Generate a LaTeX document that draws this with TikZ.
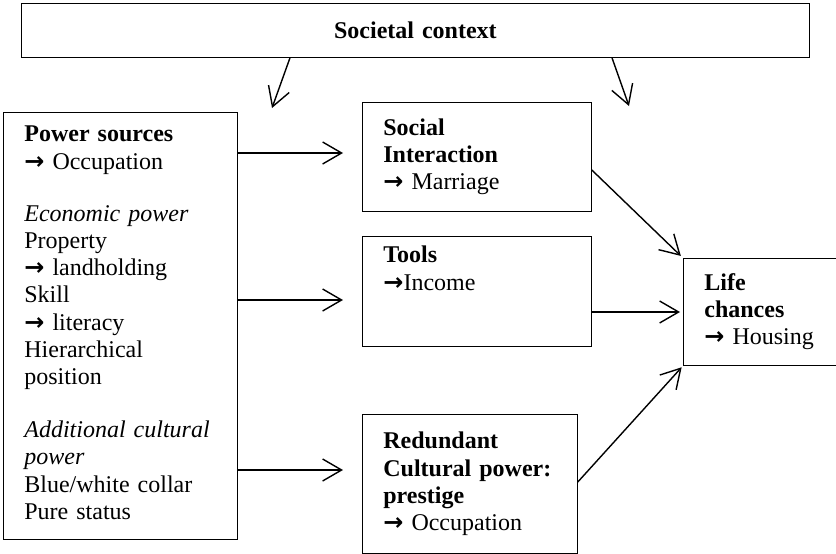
\documentclass[tikz,border=0pt]{standalone}
\usepackage{fontspec}
\setmainfont{Liberation Serif}
\newfontfamily\arrowfont{DejaVu Sans}
\newcommand\ra{{\arrowfont\bfseries →}}
\usetikzlibrary{calc,arrows.meta}
\hyphenpenalty=10000

\begin{document}
\begin{tikzpicture}[x=1pt,y=-1pt,
  box/.style={draw, line width=0.8pt, anchor=north west, align=left,
    inner xsep=21pt, inner ysep=0pt, font=\fontsize{24}{27.2}\selectfont},
  flow/.style={line width=1.4pt, -{Straight Barb[length=19pt,width=22pt,line width=1.4pt]}}]
  \useasboundingbox (0,0) rectangle (836,554);

  \node[box, text width=746pt, align=center, minimum height=54pt] (ctx) at (21,3) {\textbf{Societal context}};

  \node[box, text width=192pt, minimum height=427pt] (power) at (3,112) {%
    \textbf{Power sources}\\
    \ra~Occupation\\[25pt]
    \textit{Economic power}\\
    Property\\
    \ra~landholding\\
    Skill\\
    \ra~literacy\\
    Hierarchical\\
    position\\[26pt]
    \textit{Additional cultural}\\
    \textit{power}\\
    Blue/white collar\\
    Pure status\\[-21pt]
    \mbox{}};

  \node[box, text width=187pt, minimum height=109pt] (social) at (362,102)
    {\textbf{Social}\\\textbf{Interaction}\\\ra~Marriage};
  \node[box, text width=187pt, minimum height=110pt] (tools) at (362,236)
    {\textbf{Tools}\\\ra Income\\[-8pt]\mbox{}\\\mbox{}};
  \node[box, text width=173pt, minimum height=139pt] (redund) at (362,414)
    {\textbf{Redundant}\\\textbf{Cultural power:}\\\textbf{prestige}\\\ra~Occupation};
  \node[box, text width=112pt, minimum height=107pt] (life) at (683,258)
    {\textbf{Life}\\\textbf{chances}\\\ra~Housing};

  % context arrows end in the open space
  \coordinate (inL) at (272,108);
  \coordinate (inR) at (629,106);
  \draw[flow] ($(ctx.south west)+(269,0)$) -- (inL);
  \draw[flow] ($(ctx.south west)+(591,0)$) -- (inR);

  % power sources to the middle column
  \draw[flow, shorten >=19pt] ($(power.north east)+(0,41)$) -- ($(social.north west)+(0,51)$);
  \draw[flow, shorten >=19pt] ($(power.north east)+(0,188)$) -- ($(tools.north west)+(0,64)$);
  \draw[flow, shorten >=19pt] ($(power.north east)+(0,358)$) -- ($(redund.north west)+(0,56)$);

  % middle column to life chances
  \draw[flow, shorten >=3pt] ($(social.north east)+(0,68)$) -- (life.north west);
  \draw[flow, shorten >=3pt] ($(tools.north east)+(0,76)$) -- ($(life.north west)+(0,54)$);
  \draw[flow, shorten >=2pt] ($(redund.north east)+(0,68)$) -- (life.south west);
\end{tikzpicture}
\end{document}
